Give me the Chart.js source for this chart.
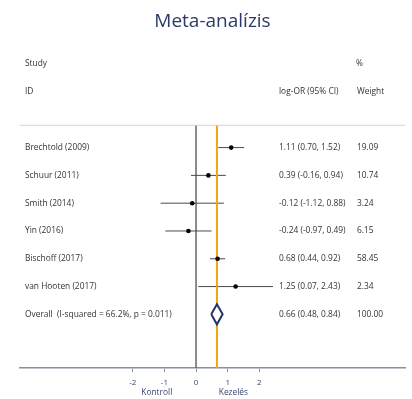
<!DOCTYPE html>
<html>
<head>
<meta charset="utf-8">
<script src="https://cdn.jsdelivr.net/npm/chart.js@4"></script>
<style>
  html, body { margin: 0; padding: 0; background: #fff; }
  #wrap { width: 412px; height: 399px; }
</style>
</head>
<body>
<div id="wrap"><canvas id="forest"></canvas></div>
<script>
// Studies and effect sizes (log odds ratio, 95% CI)
const studies = ['Brechtold (2009)', 'Schuur (2011)', 'Smith (2014)', 'Yin (2016)', 'Bischoff (2017)', 'van Hooten (2017)'];
const logOR = [1.11, 0.39, -0.12, -0.24, 0.68, 1.25];
const ciLow = [0.70, -0.16, -1.12, -0.97, 0.44, 0.07];
const ciHigh = [1.52, 0.94, 0.88, 0.49, 0.92, 2.43];
const weights = ['19.09', '10.74', '3.24', '6.15', '58.45', '2.34'];

const overallLabel = 'Overall  (I-squared = 66.2%, p = 0.011)';
const overallEst = 0.66;
const overallLow = 0.48;
const overallHigh = 0.84;
const overallWeight = '100.00';

const xTicks = [-2, -1, 0, 1, 2];

const fmt = v => v.toFixed(2);
const ciText = (e, l, h) => `${fmt(e)} (${fmt(l)}, ${fmt(h)})`;

const overallRow = studies.length;
const yMin = -0.82, yMax = 7.93;

// CI segments, broken by gaps
const ciData = [];
studies.forEach((s, i) => {
    ciData.push({x: ciLow[i], y: i}, {x: ciHigh[i], y: i}, {x: null, y: null});
});
const pointData = studies.map((s, i) => ({x: logOR[i], y: i}));
const dh = 0.36;
const diamondData = [
    {x: overallLow, y: overallRow},
    {x: overallEst, y: overallRow - dh},
    {x: overallHigh, y: overallRow},
    {x: overallEst, y: overallRow + dh},
    {x: overallLow, y: overallRow}
];

const textPlugin = {
    id: 'forestText',
    afterDraw(chart) {
        const {ctx, chartArea, scales} = chart;
        const y = scales.y, x = scales.x;
        ctx.save();
        // top rule
        ctx.strokeStyle = '#d4d4d4';
        ctx.lineWidth = 1;
        ctx.beginPath();
        ctx.moveTo(chartArea.left, chartArea.top + 0.5);
        ctx.lineTo(chartArea.right, chartArea.top + 0.5);
        ctx.stroke();

        ctx.font = '8.4px "Open Sans"';
        ctx.fillStyle = '#333';
        ctx.textBaseline = 'middle';
        ctx.textAlign = 'left';
        // headers
        ctx.fillText('Study', 25, 64);
        ctx.fillText('ID', 25, 92);
        ctx.fillText('%', 356, 64);
        ctx.fillText('log-OR (95% CI)', 279, 92);
        ctx.fillText('Weight', 357, 92);

        studies.forEach((s, i) => {
            const py = y.getPixelForValue(i);
            ctx.fillText(s, 25, py);
            ctx.fillText(ciText(logOR[i], ciLow[i], ciHigh[i]), 279, py);
            ctx.fillText(weights[i], 357, py);
        });
        const oy = y.getPixelForValue(overallRow);
        ctx.fillText(overallLabel, 25, oy);
        ctx.fillText(ciText(overallEst, overallLow, overallHigh), 279, oy);
        ctx.fillText(overallWeight, 357, oy);

        // favours labels under the axis
        ctx.fillStyle = '#3a4670';
        ctx.textAlign = 'center';
        ctx.fillText('Kontroll', x.getPixelForValue(-1.24), 393);
        ctx.fillText('Kezelés', x.getPixelForValue(1.18), 393);
        ctx.restore();
    }
};

new Chart(document.getElementById('forest'), {
    type: 'scatter',
    data: {
        datasets: [
            {
                label: 'overall',
                data: diamondData,
                showLine: true,
                borderColor: '#27346b',
                borderWidth: 2,
                backgroundColor: '#ffffff',
                fill: 'shape',
                pointRadius: 0,
                order: 0
            },
            {
                label: 'estimates',
                data: pointData,
                pointRadius: 2.3,
                pointBackgroundColor: '#000',
                pointBorderWidth: 0,
                order: 1
            },
            {
                label: 'pooled',
                data: [{x: overallEst, y: yMin}, {x: overallEst, y: yMax}],
                showLine: true,
                borderColor: '#f2a50c',
                borderWidth: 2,
                pointRadius: 0,
                order: 2
            },
            {
                label: 'ci',
                data: ciData,
                showLine: true,
                spanGaps: false,
                borderColor: '#4a4a4a',
                borderWidth: 1,
                pointRadius: 0,
                order: 3
            },
            {
                label: 'zero',
                data: [{x: 0, y: yMin}, {x: 0, y: yMax}],
                showLine: true,
                borderColor: '#666',
                borderWidth: 1.5,
                pointRadius: 0,
                order: 4
            }
        ]
    },
    options: {
        responsive: true,
        maintainAspectRatio: false,
        animation: false,
        layout: { padding: { top: 0, left: 20, right: 7, bottom: 0 } },
        plugins: {
            legend: { display: false },
            tooltip: { enabled: false },
            title: {
                display: true,
                text: 'Meta-analízis',
                color: '#2b3a67',
                font: { family: 'Open Sans', size: 19, weight: 'normal' },
                padding: { top: 10, bottom: 92 }
            }
        },
        scales: {
            x: {
                type: 'linear',
                min: -5.56,
                max: 6.6,
                afterBuildTicks: scale => { scale.ticks = xTicks.map(v => ({value: v})); },
                afterFit: scale => { scale.height = 31; },
                grid: { drawOnChartArea: false, tickLength: 4, color: '#8890a0' },
                border: { color: '#8890a0', width: 1.5 },
                ticks: {
                    color: '#3a4670',
                    font: { family: 'Open Sans', size: 8 },
                    padding: 6,
                    maxRotation: 0
                }
            },
            y: {
                type: 'linear',
                display: false,
                reverse: true,
                min: yMin,
                max: yMax
            }
        }
    },
    plugins: [textPlugin]
});
</script>
</body>
</html>
